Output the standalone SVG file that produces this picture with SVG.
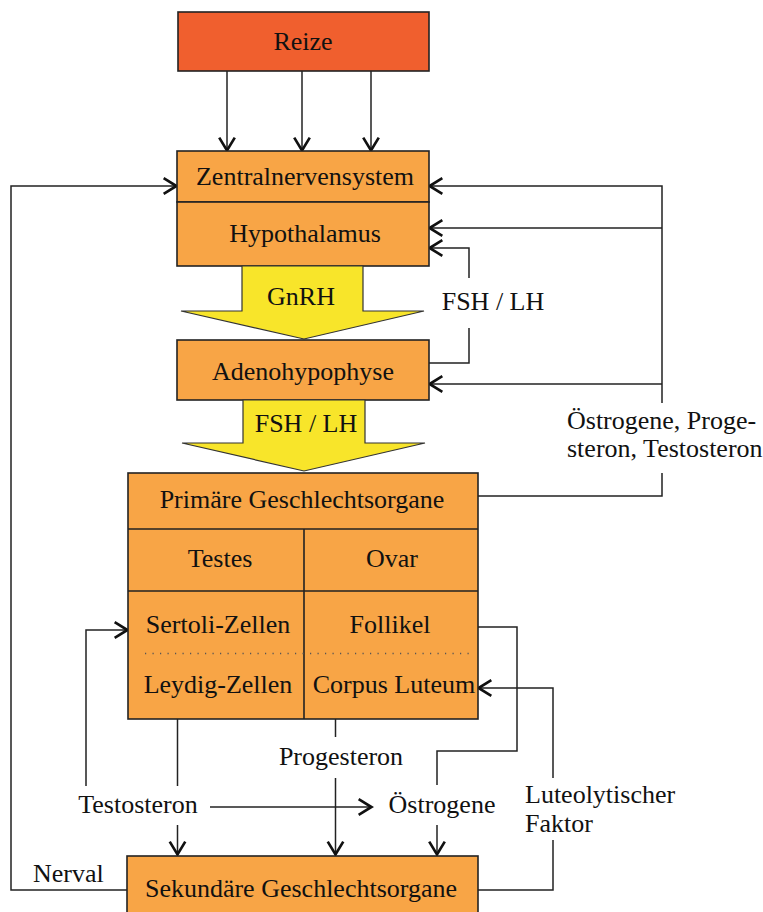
<svg xmlns="http://www.w3.org/2000/svg" width="763" height="912" viewBox="0 0 763 912">
  <style>
    .box { fill: #F8A546; stroke: #222; stroke-width: 1.6; }
    .stim { fill: #F05F2E; stroke: #222; stroke-width: 1.6; }
    .big { fill: #F8E52A; stroke: #333; stroke-width: 1.2; }
    .sep { fill: none; stroke: #222; stroke-width: 1.6; }
    .dot { fill: none; stroke: #555; stroke-width: 1.3; stroke-dasharray: 1.2 6.3; }
    .t { font-family: "Liberation Serif", "Times New Roman", serif; font-size: 26px; fill: #111; text-anchor: middle; }
    .l { text-anchor: start; }
    .c { fill: none; stroke: #222; stroke-width: 1.5; }
    .a { marker-end: url(#chev); }
  </style>
  <defs>
    <marker id="chev" markerUnits="userSpaceOnUse" markerWidth="20" markerHeight="20" viewBox="-14 -9 16 18" refX="0" refY="0" orient="auto">
      <path d="M-12,-7 L-0.5,0 L-12,7" fill="none" stroke="#111" stroke-width="2.4"/>
    </marker>
  </defs>

  <!-- connectors -->
  <g id="connectors">
    <!-- stimuli into the CNS -->
    <path class="c a" d="M227,71 V151"/>
    <path class="c a" d="M302,71 V151"/>
    <path class="c a" d="M371,71 V151"/>
    <!-- nerval feedback -->
    <path class="c a" d="M127,890 H11 V186 H177"/>
    <!-- steroid feedback from primary organs -->
    <path class="c" d="M478,496 H662 V473"/>
    <path class="c a" d="M662,403 V186 H429"/>
    <path class="c a" d="M662,228 H429"/>
    <path class="c a" d="M662,384 H429"/>
    <!-- FSH / LH short loop -->
    <path class="c" d="M429,363 H469 V328"/>
    <path class="c a" d="M469,278 V248 H429"/>
    <!-- Follikel -> Östrogene -->
    <path class="c" d="M478,627 H517 V751 H437 V785"/>
    <!-- luteolytic factor -->
    <path class="c a" d="M553,778 V688 H478"/>
    <path class="c" d="M478,890 H553 V840"/>
    <!-- testosterone to Sertoli cells -->
    <path class="c a" d="M86,786 V630 H128"/>
    <!-- Leydig cells -> testosterone -->
    <path class="c" d="M177.5,719 V786"/>
    <path class="c a" d="M177.5,825 V855"/>
    <!-- testosterone -> estrogens -->
    <path class="c a" d="M210,807 H372"/>
    <!-- progesterone -->
    <path class="c" d="M335.5,719 V737"/>
    <path class="c a" d="M335.5,778 V855"/>
    <!-- estrogens -> secondary organs -->
    <path class="c a" d="M437,825 V855"/>
  </g>

  <g id="reize">
    <rect class="stim" x="178" y="12" width="251" height="59"/>
    <text class="t" x="303" y="50">Reize</text>
  </g>

  <g id="zns">
    <rect class="box" x="177" y="151" width="252" height="51"/>
    <text class="t" x="305" y="185">Zentralnervensystem</text>
  </g>

  <g id="hypothalamus">
    <rect class="box" x="177" y="202" width="252" height="64"/>
    <text class="t" x="305" y="242">Hypothalamus</text>
  </g>

  <g id="gnrh">
    <polygon class="big" points="242,266 363,266 363,311 424,311 304,339 181,311 242,311"/>
    <text class="t" x="301" y="305">GnRH</text>
  </g>

  <g id="adenohypophyse">
    <rect class="box" x="177" y="340" width="252" height="60"/>
    <text class="t" x="303" y="380">Adenohypophyse</text>
  </g>

  <g id="fsh-lh">
    <polygon class="big" points="243,400 365,400 365,443 425,443 304,471 182,443 243,443"/>
    <text class="t" x="306" y="432">FSH / LH</text>
  </g>

  <g id="primaere">
    <rect class="box" x="128" y="473" width="350" height="246"/>
    <path class="sep" d="M128,529 H478 M128,591 H478 M304,529 V719"/>
    <path class="dot" d="M145,653.5 H472"/>
    <text class="t" x="302" y="508">Primäre Geschlechtsorgane</text>
    <text class="t" x="220" y="567">Testes</text>
    <text class="t" x="392" y="567">Ovar</text>
    <text class="t" x="218" y="633">Sertoli-Zellen</text>
    <text class="t" x="390" y="633">Follikel</text>
    <text class="t" x="218" y="693">Leydig-Zellen</text>
    <text class="t" x="394" y="693">Corpus Luteum</text>
  </g>

  <g id="sekundaere">
    <rect class="box" x="127" y="856" width="351" height="70"/>
    <text class="t" x="301" y="897">Sekundäre Geschlechtsorgane</text>
  </g>

  <!-- free labels on the connectors -->
  <g id="labels">
    <text class="t" x="493" y="310">FSH / LH</text>
    <text class="t l" x="567" y="429">Östrogene, Proge-</text>
    <text class="t l" x="567" y="457">steron, Testosteron</text>
    <text class="t" x="341" y="765">Progesteron</text>
    <text class="t" x="138" y="813">Testosteron</text>
    <text class="t" x="442" y="813">Östrogene</text>
    <text class="t l" x="525" y="803">Luteolytischer</text>
    <text class="t l" x="525" y="832">Faktor</text>
    <text class="t l" x="33" y="882">Nerval</text>
  </g>
</svg>
